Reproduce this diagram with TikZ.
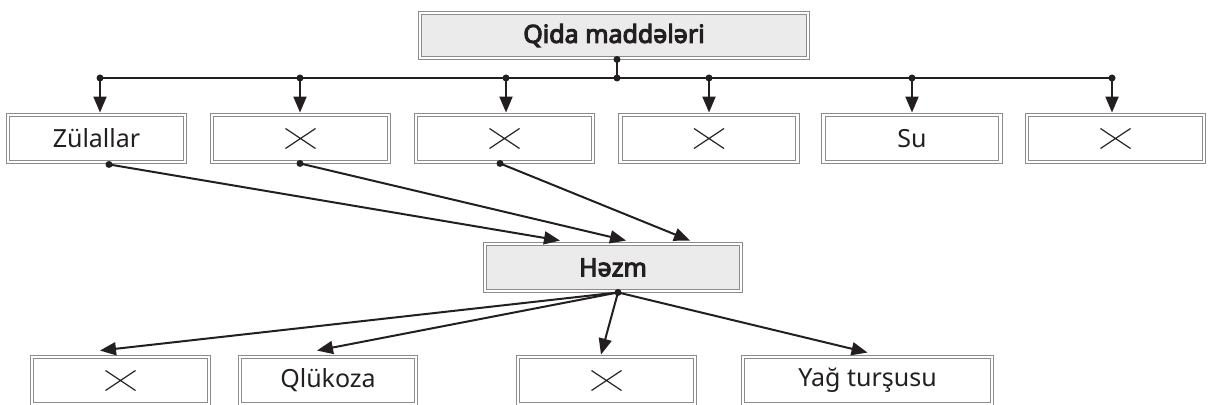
\documentclass[tikz,border=0pt]{standalone}
\usepackage{fontspec}
\setmainfont{Noto Sans}[AutoFakeBold=4]
\usetikzlibrary{arrows.meta,calc}
\definecolor{ink}{HTML}{231F20}
\definecolor{rim}{HTML}{8C8C8C}
\definecolor{shade}{HTML}{EBEBEC}
\tikzset{
  box/.style={draw=rim, double=white, double distance=1.3pt, line width=0.45pt,
    minimum width=88.5pt, minimum height=23.5pt, inner sep=0pt,
    font=\fontsize{12.5}{15}\selectfont, text=ink},
  headbox/.style={box, fill=shade, font=\fontsize{12.5}{15}\selectfont\bfseries},
  cross/.style={path picture={
    \draw[ink, line width=0.6pt]
      ($(path picture bounding box.center)+(-15,-10)$) -- ($(path picture bounding box.center)+(15,10)$)
      ($(path picture bounding box.center)+(-15,10)$) -- ($(path picture bounding box.center)+(15,-10)$);}},
  link/.style={ink, line width=1pt},
  arr/.style={link, -{Triangle[length=8pt,width=6.5pt]}},
}
\begin{document}
\begin{tikzpicture}[x=0.5pt, y=-0.5pt]
  \useasboundingbox (0,0) rectangle (1208,405);

  % top
  \node[headbox, minimum width=194pt, minimum height=22.5pt] (qida) at (614,35.5) {Qida maddələri};

  % first row
  \node[box] (zul) at (96.5,138.5) {Zülallar};
  \node[box, cross] (r2) at (300.5,138.5) {};
  \node[box, cross] (r3) at (504.5,138.5) {};
  \node[box, cross] (r4) at (709,138.5) {};
  \node[box] (su) at (912,138.5) {Su};
  \node[box, cross] (r6) at (1115.5,138.5) {};

  % middle
  \node[headbox, minimum width=128pt] (hezm) at (613,267.5) {Həzm};

  % last row
  \node[box, cross] (d1) at (120.5,380.5) {};
  \node[box, minimum width=88pt] (glu) at (328,380.5) {Qlükoza};
  \node[box, cross] (d3) at (606.5,380.5) {};
  \node[box, minimum width=124.5pt] (yag) at (867.5,380.5) {Yağ turşusu};

  % bus
  \coordinate (top) at ($(qida.south)+(3,1)$);
  \coordinate (hub) at (617,78);
  \coordinate (j1) at (100,78);
  \coordinate (j2) at (300,78);
  \coordinate (j3) at (506,78);
  \coordinate (j4) at (709,78);
  \coordinate (j5) at (912,78);
  \coordinate (j6) at (1112,78);
  \draw[link] (top) -- (hub);
  \draw[link] (j1) -- (j6);
  \foreach \j/\b in {j1/zul, j2/r2, j3/r3, j4/r4, j5/su, j6/r6} {
    \draw[arr] (\j) -- ($(\j |- \b.north)+(0,-2)$);
    \fill[ink] (\j) circle[radius=1.75pt];
  }
  \fill[ink] (top) circle[radius=1.75pt];
  \fill[ink] (hub) circle[radius=1.75pt];

  % into digestion
  \coordinate (s1) at ($(zul.south)+(12.5,2)$);
  \coordinate (s2) at ($(r2.south)+(-0.5,1)$);
  \coordinate (s3) at ($(r3.south)+(-4.5,1)$);
  \draw[arr] (s1) -- ($(hezm.north)+(-53,-3)$);
  \draw[arr] (s2) -- ($(hezm.north)+(13,-3)$);
  \draw[arr] (s3) -- ($(hezm.north)+(77,-3)$);
  \foreach \s in {s1,s2,s3} \fill[ink] (\s) circle[radius=1.75pt];

  % products
  \coordinate (out) at ($(hezm.south)+(5,1)$);
  \draw[arr] (out) -- ($(d1.north)+(-20.5,-6)$);
  \draw[arr] (out) -- ($(glu.north)+(-11,-6)$);
  \draw[arr] (out) -- ($(d3.north)+(-5.5,-2)$);
  \draw[arr] (out) -- ($(yag.north)+(0,-4)$);
  \fill[ink] (out) circle[radius=1.75pt];
\end{tikzpicture}
\end{document}
